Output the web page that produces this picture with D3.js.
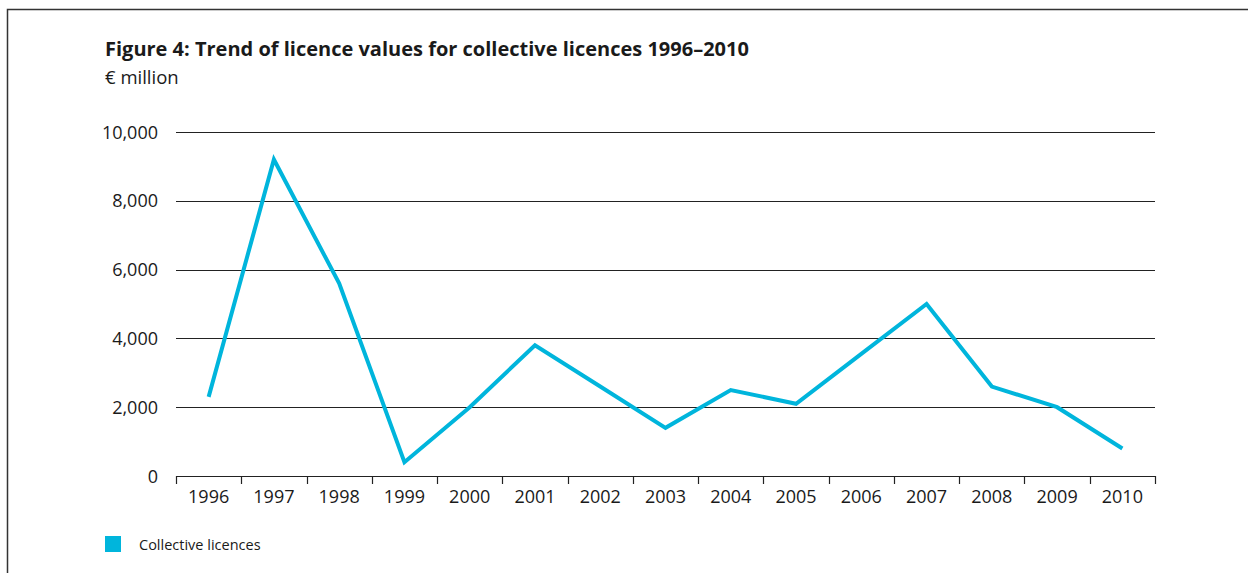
<!DOCTYPE html>
<html>
<head>
<meta charset="utf-8">
<script src="https://cdn.jsdelivr.net/npm/d3@7"></script>
<style>
  body { margin: 0; background: #fff; }
  svg text { font-family: "Open Sans", "Noto Sans", sans-serif; fill: #1a1a1a; }
</style>
</head>
<body>
<div class="output"></div>
<script>
// Data
const years = ["1996", "1997", "1998", "1999", "2000", "2001", "2002", "2003",
    "2004", "2005", "2006", "2007", "2008", "2009", "2010"];
const licenceValues = [2300, 9200, 5600, 400, 2000, 3800, 2600, 1400,
    2500, 2100, 3550, 5000, 2600, 2000, 800];
const yTicks = [0, 2000, 4000, 6000, 8000, 10000];
const seriesName = "Collective licences";
const titleText = "Figure 4: Trend of licence values for collective licences 1996\u20132010";
const unitText = "\u20ac million";

const W = 1248, H = 573;
const margin = { left: 176, right: 93, top: 132, bottom: 97 };
const width = W - margin.left - margin.right;
const height = H - margin.top - margin.bottom;
const lineColor = "#00b5dc";

let root = d3.select(".output")
    .append("svg")
    .attr("width", W)
    .attr("height", H);

// Rahmen
root.append("path")
    .attr("d", "M7.5," + H + "V9.5H" + W)
    .attr("fill", "none")
    .attr("stroke", "#333")
    .attr("stroke-width", 1.5);

// Titel
root.append("text")
    .text(titleText)
    .attr("x", 105)
    .attr("y", 56)
    .style("font-weight", 700)
    .style("font-size", "20px");

root.append("text")
    .text(unitText)
    .attr("x", 105)
    .attr("y", 84)
    .style("font-size", "18.5px");

let svg = root.append("g")
    .attr("transform", "translate(" + margin.left + "," + margin.top + ")");

// Ось X
let xBand = d3.scaleBand()
    .domain(years)
    .range([0, width]);

let y = d3.scaleLinear()
    .domain([0, 10000])
    .range([height, 0]);

// Gridlines
svg.append("g")
    .selectAll("line")
    .data(yTicks.filter(d => d > 0))
    .enter()
    .append("line")
    .attr("x1", 0)
    .attr("x2", width)
    .attr("y1", d => Math.round(y(d)) + 0.5)
    .attr("y2", d => Math.round(y(d)) + 0.5)
    .attr("stroke", "#222")
    .attr("stroke-width", 1);

// Y labels
svg.append("g")
    .selectAll("text")
    .data(yTicks)
    .enter()
    .append("text")
    .text(d => d3.format(",")(d))
    .attr("x", -18)
    .attr("y", d => y(d) + 6.5)
    .attr("text-anchor", "end")
    .style("font-size", "18px");

// X axis line + ticks at band edges
let edges = years.map(d => xBand(d)).concat([width]);
svg.append("line")
    .attr("x1", 0)
    .attr("x2", width)
    .attr("y1", height + 0.5)
    .attr("y2", height + 0.5)
    .attr("stroke", "#222")
    .attr("stroke-width", 1.2);
svg.append("g")
    .selectAll("line")
    .data(edges)
    .enter()
    .append("line")
    .attr("x1", d => Math.round(d) + 0.5)
    .attr("x2", d => Math.round(d) + 0.5)
    .attr("y1", height)
    .attr("y2", height + 8)
    .attr("stroke", "#222")
    .attr("stroke-width", 1.2);

svg.append("g")
    .selectAll("text")
    .data(years)
    .enter()
    .append("text")
    .text(d => d)
    .attr("x", d => xBand(d) + xBand.bandwidth() / 2)
    .attr("y", height + 27)
    .attr("text-anchor", "middle")
    .style("font-size", "18px");

// Линия
let line = d3.line()
    .x((d, i) => xBand(years[i]) + xBand.bandwidth() / 2)
    .y(d => y(d));

svg.append("path")
    .datum(licenceValues)
    .attr("d", line)
    .attr("fill", "none")
    .attr("stroke", lineColor)
    .attr("stroke-width", 4)
    .attr("stroke-linejoin", "miter");

// Легенда
root.append("rect")
    .attr("x", 105)
    .attr("y", 536)
    .attr("width", 16)
    .attr("height", 16)
    .attr("fill", lineColor);

root.append("text")
    .text(seriesName)
    .attr("x", 139)
    .attr("y", 550)
    .style("font-size", "14.5px");
</script>
</body>
</html>
